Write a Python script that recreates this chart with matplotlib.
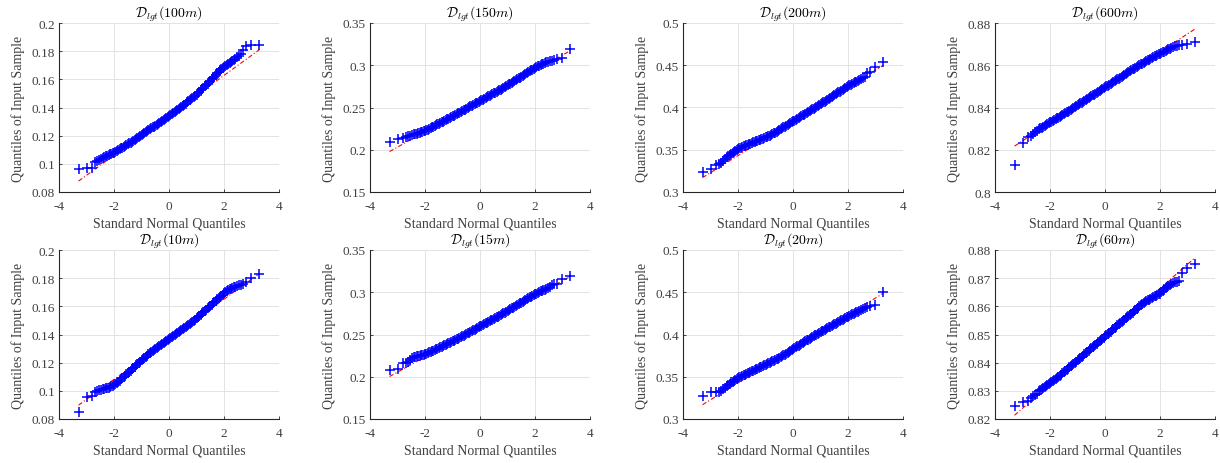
import numpy as np
import matplotlib
matplotlib.use("Agg")
import matplotlib.pyplot as plt
from matplotlib.ticker import FuncFormatter

plt.rcParams['font.family'] = ['Liberation Serif', 'DejaVu Serif']
plt.rcParams['mathtext.fontset'] = 'cm'

# standard normal quantiles (shared by every panel)
x_q = [-3.29, -2.97, -2.81, -2.70, -2.61, -2.54, -2.47,
       -2.4, -2.35, -2.3, -2.25, -2.2, -2.15, -2.1, -2.05, -2.0, -1.95,
       -1.9, -1.85, -1.8, -1.75, -1.7, -1.65, -1.6, -1.55, -1.5, -1.45,
       -1.4, -1.35, -1.3, -1.25, -1.2, -1.15, -1.1, -1.05, -1.0, -0.95,
       -0.9, -0.85, -0.8, -0.75, -0.7, -0.65, -0.6, -0.55, -0.5, -0.45,
       -0.4, -0.35, -0.3, -0.25, -0.2, -0.15, -0.1, -0.05, 0.0, 0.05,
       0.1, 0.15, 0.2, 0.25, 0.3, 0.35, 0.4, 0.45, 0.5, 0.55,
       0.6, 0.65, 0.7, 0.75, 0.8, 0.85, 0.9, 0.95, 1.0, 1.05,
       1.1, 1.15, 1.2, 1.25, 1.3, 1.35, 1.4, 1.45, 1.5, 1.55,
       1.6, 1.65, 1.7, 1.75, 1.8, 1.85, 1.9, 1.95, 2.0, 2.05,
       2.1, 2.15, 2.2, 2.25, 2.3, 2.35, 2.4,
       2.47, 2.54, 2.61, 2.70, 2.81, 2.97, 3.29]

# sample quantiles
q_100m = [0.0962, 0.0972, 0.0973, 0.1010, 0.1022, 0.1028, 0.1031,
          0.1044, 0.1049, 0.1053, 0.1058, 0.1062, 0.1067, 0.1071, 0.1076, 0.1080, 0.1086,
          0.1091, 0.1097, 0.1102, 0.1109, 0.1115, 0.1121, 0.1127, 0.1133, 0.1139, 0.1145,
          0.1151, 0.1158, 0.1164, 0.1171, 0.1178, 0.1185, 0.1191, 0.1198, 0.1204, 0.1211,
          0.1217, 0.1224, 0.1231, 0.1238, 0.1245, 0.1252, 0.1258, 0.1265, 0.1271, 0.1277,
          0.1283, 0.1290, 0.1296, 0.1303, 0.1310, 0.1317, 0.1324, 0.1331, 0.1338, 0.1345,
          0.1352, 0.1359, 0.1366, 0.1374, 0.1382, 0.1390, 0.1397, 0.1405, 0.1413, 0.1421,
          0.1428, 0.1436, 0.1444, 0.1452, 0.1460, 0.1468, 0.1476, 0.1484, 0.1492, 0.1502,
          0.1511, 0.1521, 0.1530, 0.1540, 0.1550, 0.1560, 0.1570, 0.1580, 0.1590, 0.1600,
          0.1610, 0.1620, 0.1631, 0.1642, 0.1653, 0.1663, 0.1673, 0.1682, 0.1690, 0.1697,
          0.1703, 0.1709, 0.1715, 0.1722, 0.1730, 0.1738, 0.1746,
          0.1758, 0.1768, 0.1778, 0.1805, 0.1838, 0.1842, 0.1842]
q_150m = [0.2091, 0.2130, 0.2138, 0.2150, 0.2158, 0.2166, 0.2175,
          0.2184, 0.2188, 0.2192, 0.2197, 0.2201, 0.2206, 0.2211, 0.2216, 0.2222, 0.2230,
          0.2238, 0.2246, 0.2255, 0.2264, 0.2273, 0.2281, 0.2290, 0.2299, 0.2308, 0.2316,
          0.2325, 0.2334, 0.2343, 0.2352, 0.2361, 0.2369, 0.2378, 0.2386, 0.2395, 0.2403,
          0.2412, 0.2421, 0.2430, 0.2439, 0.2449, 0.2458, 0.2467, 0.2476, 0.2485, 0.2494,
          0.2503, 0.2512, 0.2521, 0.2530, 0.2540, 0.2549, 0.2558, 0.2567, 0.2576, 0.2585,
          0.2594, 0.2603, 0.2612, 0.2621, 0.2631, 0.2640, 0.2649, 0.2658, 0.2667, 0.2676,
          0.2685, 0.2694, 0.2703, 0.2713, 0.2723, 0.2733, 0.2743, 0.2753, 0.2763, 0.2773,
          0.2783, 0.2793, 0.2803, 0.2813, 0.2824, 0.2834, 0.2844, 0.2854, 0.2864, 0.2874,
          0.2885, 0.2895, 0.2906, 0.2917, 0.2928, 0.2938, 0.2949, 0.2959, 0.2970, 0.2979,
          0.2988, 0.2997, 0.3006, 0.3013, 0.3020, 0.3027, 0.3033,
          0.3042, 0.3050, 0.3056, 0.3065, 0.3078, 0.3085, 0.3195]
q_200m = [0.3236, 0.3276, 0.3315, 0.3327, 0.3345, 0.3366, 0.3385,
          0.3409, 0.3423, 0.3437, 0.3450, 0.3463, 0.3475, 0.3487, 0.3498, 0.3508, 0.3516,
          0.3524, 0.3532, 0.3539, 0.3546, 0.3553, 0.3560, 0.3566, 0.3573, 0.3580, 0.3586,
          0.3592, 0.3599, 0.3605, 0.3611, 0.3617, 0.3624, 0.3630, 0.3638, 0.3645, 0.3653,
          0.3660, 0.3668, 0.3676, 0.3685, 0.3694, 0.3704, 0.3713, 0.3723, 0.3733, 0.3744,
          0.3754, 0.3764, 0.3774, 0.3784, 0.3794, 0.3805, 0.3815, 0.3825, 0.3835, 0.3845,
          0.3855, 0.3866, 0.3876, 0.3886, 0.3896, 0.3906, 0.3916, 0.3927, 0.3937, 0.3947,
          0.3957, 0.3967, 0.3977, 0.3988, 0.3998, 0.4008, 0.4018, 0.4029, 0.4039, 0.4050,
          0.4060, 0.4071, 0.4081, 0.4092, 0.4103, 0.4114, 0.4124, 0.4135, 0.4145, 0.4156,
          0.4167, 0.4178, 0.4188, 0.4199, 0.4209, 0.4220, 0.4231, 0.4242, 0.4252, 0.4261,
          0.4270, 0.4279, 0.4288, 0.4297, 0.4305, 0.4314, 0.4323,
          0.4336, 0.4350, 0.4365, 0.4410, 0.4425, 0.4476, 0.4535]
q_600m = [0.8126, 0.8232, 0.8258, 0.8266, 0.8276, 0.8283, 0.8289,
          0.8298, 0.8302, 0.8305, 0.8310, 0.8314, 0.8318, 0.8321, 0.8325, 0.8329, 0.8333,
          0.8336, 0.8341, 0.8345, 0.8349, 0.8352, 0.8357, 0.8361, 0.8365, 0.8368, 0.8373,
          0.8377, 0.8381, 0.8385, 0.8390, 0.8394, 0.8398, 0.8402, 0.8406, 0.8410, 0.8415,
          0.8419, 0.8423, 0.8427, 0.8432, 0.8436, 0.8440, 0.8444, 0.8449, 0.8453, 0.8457,
          0.8461, 0.8466, 0.8470, 0.8474, 0.8478, 0.8483, 0.8487, 0.8491, 0.8495, 0.8500,
          0.8504, 0.8508, 0.8512, 0.8516, 0.8520, 0.8525, 0.8529, 0.8533, 0.8537, 0.8542,
          0.8546, 0.8550, 0.8554, 0.8559, 0.8563, 0.8567, 0.8571, 0.8576, 0.8580, 0.8584,
          0.8588, 0.8592, 0.8596, 0.8600, 0.8604, 0.8608, 0.8612, 0.8616, 0.8620, 0.8624,
          0.8627, 0.8631, 0.8635, 0.8639, 0.8642, 0.8646, 0.8649, 0.8652, 0.8655, 0.8659,
          0.8662, 0.8665, 0.8668, 0.8672, 0.8675, 0.8678, 0.8681,
          0.8686, 0.8689, 0.8691, 0.8694, 0.8697, 0.8700, 0.8709]
q_10m = [0.0848, 0.0954, 0.0962, 0.0989, 0.0998, 0.1003, 0.1008,
         0.1012, 0.1014, 0.1017, 0.1020, 0.1023, 0.1027, 0.1031, 0.1036, 0.1041, 0.1048,
         0.1056, 0.1064, 0.1073, 0.1081, 0.1090, 0.1099, 0.1108, 0.1117, 0.1126, 0.1135,
         0.1144, 0.1153, 0.1162, 0.1171, 0.1181, 0.1190, 0.1199, 0.1207, 0.1216, 0.1224,
         0.1233, 0.1241, 0.1250, 0.1258, 0.1266, 0.1274, 0.1282, 0.1289, 0.1297, 0.1304,
         0.1311, 0.1318, 0.1325, 0.1332, 0.1339, 0.1346, 0.1353, 0.1360, 0.1367, 0.1374,
         0.1381, 0.1388, 0.1395, 0.1402, 0.1409, 0.1416, 0.1423, 0.1430, 0.1437, 0.1444,
         0.1451, 0.1458, 0.1466, 0.1474, 0.1482, 0.1490, 0.1498, 0.1506, 0.1515, 0.1523,
         0.1532, 0.1541, 0.1550, 0.1559, 0.1568, 0.1577, 0.1586, 0.1595, 0.1604, 0.1613,
         0.1622, 0.1631, 0.1640, 0.1649, 0.1658, 0.1667, 0.1676, 0.1684, 0.1693, 0.1700,
         0.1708, 0.1714, 0.1720, 0.1725, 0.1731, 0.1735, 0.1740,
         0.1745, 0.1750, 0.1755, 0.1762, 0.1770, 0.1803, 0.1828]
q_15m = [0.2080, 0.2090, 0.2160, 0.2165, 0.2175, 0.2200, 0.2220,
         0.2232, 0.2236, 0.2240, 0.2245, 0.2249, 0.2254, 0.2258, 0.2263, 0.2268, 0.2274,
         0.2281, 0.2288, 0.2295, 0.2302, 0.2310, 0.2317, 0.2325, 0.2332, 0.2340, 0.2347,
         0.2355, 0.2363, 0.2371, 0.2379, 0.2387, 0.2395, 0.2403, 0.2411, 0.2419, 0.2427,
         0.2435, 0.2443, 0.2452, 0.2460, 0.2469, 0.2478, 0.2487, 0.2496, 0.2505, 0.2514,
         0.2523, 0.2532, 0.2541, 0.2550, 0.2559, 0.2568, 0.2577, 0.2586, 0.2595, 0.2604,
         0.2613, 0.2622, 0.2631, 0.2640, 0.2649, 0.2658, 0.2667, 0.2676, 0.2685, 0.2694,
         0.2703, 0.2712, 0.2721, 0.2730, 0.2740, 0.2749, 0.2759, 0.2768, 0.2778, 0.2788,
         0.2798, 0.2808, 0.2818, 0.2828, 0.2838, 0.2848, 0.2858, 0.2868, 0.2878, 0.2888,
         0.2898, 0.2908, 0.2918, 0.2928, 0.2938, 0.2947, 0.2957, 0.2966, 0.2976, 0.2985,
         0.2994, 0.3002, 0.3010, 0.3017, 0.3025, 0.3032, 0.3040,
         0.3052, 0.3065, 0.3080, 0.3092, 0.3100, 0.3160, 0.3193]
q_20m = [0.3268, 0.3315, 0.3318, 0.3322, 0.3335, 0.3350, 0.3370,
         0.3395, 0.3408, 0.3420, 0.3432, 0.3443, 0.3454, 0.3464, 0.3474, 0.3484, 0.3492,
         0.3500, 0.3508, 0.3516, 0.3524, 0.3532, 0.3540, 0.3548, 0.3556, 0.3564, 0.3572,
         0.3580, 0.3587, 0.3595, 0.3603, 0.3611, 0.3619, 0.3627, 0.3634, 0.3642, 0.3650,
         0.3658, 0.3666, 0.3674, 0.3682, 0.3690, 0.3698, 0.3707, 0.3715, 0.3724, 0.3733,
         0.3743, 0.3753, 0.3763, 0.3773, 0.3784, 0.3794, 0.3805, 0.3816, 0.3827, 0.3837,
         0.3848, 0.3858, 0.3869, 0.3879, 0.3889, 0.3899, 0.3910, 0.3920, 0.3930, 0.3940,
         0.3950, 0.3960, 0.3970, 0.3979, 0.3989, 0.3998, 0.4008, 0.4017, 0.4027, 0.4036,
         0.4046, 0.4055, 0.4065, 0.4074, 0.4083, 0.4092, 0.4102, 0.4111, 0.4120, 0.4129,
         0.4139, 0.4148, 0.4157, 0.4166, 0.4176, 0.4185, 0.4195, 0.4204, 0.4213, 0.4221,
         0.4230, 0.4238, 0.4247, 0.4254, 0.4262, 0.4269, 0.4276,
         0.4290, 0.4305, 0.4318, 0.4330, 0.4338, 0.4346, 0.4500]
q_60m = [0.8247, 0.8259, 0.8265, 0.8273, 0.8280, 0.8285, 0.8290,
         0.8298, 0.8302, 0.8306, 0.8310, 0.8313, 0.8317, 0.8320, 0.8324, 0.8327, 0.8331,
         0.8334, 0.8338, 0.8341, 0.8345, 0.8349, 0.8353, 0.8357, 0.8362, 0.8366, 0.8370,
         0.8374, 0.8379, 0.8383, 0.8387, 0.8391, 0.8396, 0.8400, 0.8404, 0.8408, 0.8413,
         0.8417, 0.8421, 0.8425, 0.8430, 0.8434, 0.8438, 0.8442, 0.8447, 0.8451, 0.8455,
         0.8459, 0.8464, 0.8468, 0.8472, 0.8476, 0.8481, 0.8485, 0.8489, 0.8493, 0.8498,
         0.8502, 0.8506, 0.8510, 0.8515, 0.8519, 0.8523, 0.8527, 0.8532, 0.8536, 0.8540,
         0.8544, 0.8549, 0.8553, 0.8557, 0.8561, 0.8566, 0.8570, 0.8574, 0.8578, 0.8583,
         0.8587, 0.8591, 0.8595, 0.8600, 0.8604, 0.8608, 0.8612, 0.8615, 0.8618, 0.8621,
         0.8624, 0.8627, 0.8630, 0.8633, 0.8635, 0.8638, 0.8640, 0.8643, 0.8645, 0.8650,
         0.8655, 0.8660, 0.8665, 0.8669, 0.8672, 0.8675, 0.8678,
         0.8682, 0.8685, 0.8688, 0.8690, 0.8719, 0.8737, 0.8749]

titles = ['100m', '150m', '200m', '600m', '10m', '15m', '20m', '60m']
samples = [q_100m, q_150m, q_200m, q_600m, q_10m, q_15m, q_20m, q_60m]
y_ticks = [[0.08, 0.1, 0.12, 0.14, 0.16, 0.18, 0.2],
           [0.15, 0.2, 0.25, 0.3, 0.35],
           [0.3, 0.35, 0.4, 0.45, 0.5],
           [0.8, 0.82, 0.84, 0.86, 0.88],
           [0.08, 0.1, 0.12, 0.14, 0.16, 0.18, 0.2],
           [0.15, 0.2, 0.25, 0.3, 0.35],
           [0.3, 0.35, 0.4, 0.45, 0.5],
           [0.82, 0.83, 0.84, 0.85, 0.86, 0.87, 0.88]]

fig = plt.figure(figsize=(12.2, 4.64), dpi=100)
W, H = 1220.0, 464.0
lefts = [59, 370, 683, 995]
tops = [24, 251]
aw, ah = 220, 169

fmt = FuncFormatter(lambda v, p: '%g' % v)
xq = np.array(x_q)
iqr_x = 0.6745

for i, (name, ys) in enumerate(zip(titles, samples)):
    r, c = divmod(i, 4)
    ax = fig.add_axes([lefts[c] / W, 1 - (tops[r] + ah) / H, aw / W, ah / H])
    ys = np.array(ys)
    n = min(len(xq), len(ys))

    # reference line through the first and third quartiles
    q1 = np.interp(-iqr_x, xq[:n], ys[:n])
    q3 = np.interp(iqr_x, xq[:n], ys[:n])
    slope = (q3 - q1) / (2 * iqr_x)
    mid = (q1 + q3) / 2
    lx = np.array([xq.min(), xq.max()])
    ax.plot(lx, mid + slope * lx, color='red', lw=0.8, ls=(0, (4, 2, 1, 2)), zorder=2)

    ax.plot(xq[:n], ys[:n], '+', color='blue', ms=6.5, mew=1.1, zorder=3)

    ax.set_xlim(-4, 4)
    ax.set_xticks([-4, -2, 0, 2, 4])
    ax.set_yticks(y_ticks[i])
    ax.set_ylim(y_ticks[i][0], y_ticks[i][-1])
    ax.xaxis.set_major_formatter(fmt)
    ax.yaxis.set_major_formatter(fmt)
    ax.grid(True, color='#e3e3e3', lw=0.7)
    ax.set_axisbelow(True)
    for s in ('top', 'right'):
        ax.spines[s].set_visible(False)
    for s in ('left', 'bottom'):
        ax.spines[s].set_color('#262626')
        ax.spines[s].set_linewidth(0.8)
    ax.tick_params(direction='in', length=2.5, width=0.6, colors='#262626',
                   labelsize=9.5, labelcolor='#404040')
    ax.tick_params(axis='x', pad=5.5)
    ax.tick_params(axis='y', pad=3)
    ax.set_title(r'$\mathcal{D}_{lgt}(%s)$' % name, fontsize=10, pad=4)
    ax.set_xlabel('Standard Normal Quantiles', fontsize=10, color='#404040', labelpad=3.5)
    ax.set_ylabel('Quantiles of Input Sample', fontsize=10, color='#404040', labelpad=5)

fig.savefig('out.png', dpi=100)
